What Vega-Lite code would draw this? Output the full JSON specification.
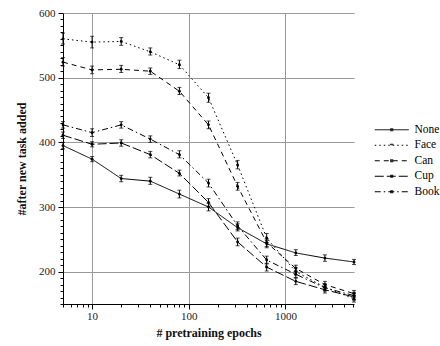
{
  "$schema": "https://vega.github.io/schema/vega-lite/v6.json",
  "autosize": {"type": "none"},
  "padding": {"left": 63, "top": 13, "right": 86, "bottom": 42},
  "width": 291,
  "height": 291,
  "background": "white",
  "config": {
    "view": {"stroke": null},
    "font": "Liberation Serif",
    "axis": {"labelFont": "Liberation Serif", "titleFont": "Liberation Serif", "labelColor": "#222", "titleColor": "#111", "domainColor": "black", "tickColor": "black", "gridColor": "#999"},
    "legend": {"labelFont": "Liberation Serif"}
  },
  "data": {"values": [
    {"series": "None", "epochs": 5, "v": 395, "lo": 390, "hi": 400},
    {"series": "None", "epochs": 10, "v": 374, "lo": 370, "hi": 378},
    {"series": "None", "epochs": 20, "v": 344, "lo": 339, "hi": 349},
    {"series": "None", "epochs": 40, "v": 340, "lo": 335, "hi": 346},
    {"series": "None", "epochs": 80, "v": 320, "lo": 314, "hi": 326},
    {"series": "None", "epochs": 160, "v": 300, "lo": 294, "hi": 306},
    {"series": "None", "epochs": 320, "v": 268, "lo": 263, "hi": 274},
    {"series": "None", "epochs": 640, "v": 243, "lo": 237, "hi": 249},
    {"series": "None", "epochs": 1280, "v": 229, "lo": 225, "hi": 234},
    {"series": "None", "epochs": 2560, "v": 221, "lo": 216, "hi": 226},
    {"series": "None", "epochs": 5120, "v": 215, "lo": 211, "hi": 219},
    {"series": "Face", "epochs": 5, "v": 560, "lo": 552, "hi": 569},
    {"series": "Face", "epochs": 10, "v": 555, "lo": 546, "hi": 564},
    {"series": "Face", "epochs": 20, "v": 556, "lo": 550, "hi": 562},
    {"series": "Face", "epochs": 40, "v": 540, "lo": 535, "hi": 546},
    {"series": "Face", "epochs": 80, "v": 520, "lo": 514, "hi": 527},
    {"series": "Face", "epochs": 160, "v": 469, "lo": 462, "hi": 476},
    {"series": "Face", "epochs": 320, "v": 365, "lo": 359, "hi": 372},
    {"series": "Face", "epochs": 640, "v": 252, "lo": 245, "hi": 259},
    {"series": "Face", "epochs": 1280, "v": 200, "lo": 195, "hi": 206},
    {"series": "Face", "epochs": 2560, "v": 176, "lo": 171, "hi": 181},
    {"series": "Face", "epochs": 5120, "v": 158, "lo": 153, "hi": 163},
    {"series": "Can", "epochs": 5, "v": 524, "lo": 518, "hi": 531},
    {"series": "Can", "epochs": 10, "v": 512, "lo": 506, "hi": 518},
    {"series": "Can", "epochs": 20, "v": 513, "lo": 508, "hi": 519},
    {"series": "Can", "epochs": 40, "v": 510, "lo": 505, "hi": 515},
    {"series": "Can", "epochs": 80, "v": 479, "lo": 474, "hi": 485},
    {"series": "Can", "epochs": 160, "v": 427, "lo": 421, "hi": 433},
    {"series": "Can", "epochs": 320, "v": 332, "lo": 326, "hi": 338},
    {"series": "Can", "epochs": 640, "v": 245, "lo": 239, "hi": 251},
    {"series": "Can", "epochs": 1280, "v": 205, "lo": 200, "hi": 210},
    {"series": "Can", "epochs": 2560, "v": 180, "lo": 175, "hi": 185},
    {"series": "Can", "epochs": 5120, "v": 166, "lo": 161, "hi": 171},
    {"series": "Cup", "epochs": 5, "v": 411, "lo": 406, "hi": 416},
    {"series": "Cup", "epochs": 10, "v": 397, "lo": 393, "hi": 401},
    {"series": "Cup", "epochs": 20, "v": 399, "lo": 394, "hi": 404},
    {"series": "Cup", "epochs": 40, "v": 381, "lo": 376, "hi": 386},
    {"series": "Cup", "epochs": 80, "v": 352, "lo": 348, "hi": 357},
    {"series": "Cup", "epochs": 160, "v": 307, "lo": 301, "hi": 313},
    {"series": "Cup", "epochs": 320, "v": 246, "lo": 240, "hi": 252},
    {"series": "Cup", "epochs": 640, "v": 207, "lo": 201, "hi": 213},
    {"series": "Cup", "epochs": 1280, "v": 185, "lo": 180, "hi": 190},
    {"series": "Cup", "epochs": 2560, "v": 172, "lo": 167, "hi": 177},
    {"series": "Cup", "epochs": 5120, "v": 161, "lo": 156, "hi": 166},
    {"series": "Book", "epochs": 5, "v": 427, "lo": 422, "hi": 432},
    {"series": "Book", "epochs": 10, "v": 415, "lo": 409, "hi": 421},
    {"series": "Book", "epochs": 20, "v": 427, "lo": 422, "hi": 432},
    {"series": "Book", "epochs": 40, "v": 405, "lo": 400, "hi": 410},
    {"series": "Book", "epochs": 80, "v": 381, "lo": 376, "hi": 387},
    {"series": "Book", "epochs": 160, "v": 337, "lo": 331, "hi": 343},
    {"series": "Book", "epochs": 320, "v": 271, "lo": 265, "hi": 277},
    {"series": "Book", "epochs": 640, "v": 218, "lo": 212, "hi": 224},
    {"series": "Book", "epochs": 1280, "v": 196, "lo": 191, "hi": 201},
    {"series": "Book", "epochs": 2560, "v": 175, "lo": 170, "hi": 180},
    {"series": "Book", "epochs": 5120, "v": 163, "lo": 157, "hi": 168}
  ]},
  "encoding": {
    "x": {
      "field": "epochs", "type": "quantitative",
      "scale": {"type": "log", "domain": [5, 5120], "nice": false},
      "axis": {
        "title": "# pretraining epochs",
        "titleFontSize": 12, "titleFontWeight": "bold", "titlePadding": 6,
        "labelFontSize": 11, "labelPadding": 1, "format": "d",
        "values": [5,6,7,8,9,10,20,30,40,50,60,70,80,90,100,200,300,400,500,600,700,800,900,1000,2000,3000,4000,5000],
        "labelExpr": "(datum.value===10||datum.value===100||datum.value===1000) ? datum.label : ''",
        "tickSize": {"condition": {"test": "datum.value===10||datum.value===100||datum.value===1000", "value": 5}, "value": 3},
        "gridOpacity": {"condition": {"test": "datum.value===10||datum.value===100||datum.value===1000", "value": 1}, "value": 0},
        "labelFlush": false
      }
    },
    "y": {
      "field": "v", "type": "quantitative",
      "scale": {"domain": [150, 600], "nice": false, "zero": false},
      "axis": {
        "title": "#after new task added",
        "titleFontSize": 12, "titleFontWeight": "bold", "titlePadding": 10,
        "labelFontSize": 11, "labelPadding": 3,
        "values": [150,160,170,180,190,200,210,220,230,240,250,260,270,280,290,300,310,320,330,340,350,360,370,380,390,400,410,420,430,440,450,460,470,480,490,500,510,520,530,540,550,560,570,580,590,600],
        "labelExpr": "datum.value % 100 === 0 ? datum.label : ''",
        "tickSize": {"condition": {"test": "datum.value % 100 === 0", "value": 5}, "value": 3},
        "gridOpacity": {"condition": {"test": "datum.value % 100 === 0", "value": 1}, "value": 0}
      }
    }
  },
  "layer": [
    {
      "mark": {"type": "line", "color": "black", "strokeWidth": 1},
      "encoding": {
        "detail": {"field": "series"},
        "strokeDash": {
          "field": "series", "type": "nominal",
          "sort": ["None", "Face", "Can", "Cup", "Book"],
          "scale": {"domain": ["None", "Face", "Can", "Cup", "Book"], "range": [[1, 0], [1.5, 3], [5, 4], [9, 3], [6, 3, 1.5, 3]]},
          "legend": {
            "title": null, "orient": "none", "legendX": 335, "legendY": 111,
            "labelFont": "Liberation Serif", "labelFontSize": 11.5, "labelColor": "black",
            "symbolType": "M-5.8,0H1M-2.6,-0.3V0.3M-2.4,-0.3V0.3M-2.2,-0.3V0.3", "symbolSize": 100, "symbolStrokeColor": "black", "symbolStrokeWidth": 1,
            "labelOffset": 5, "rowPadding": 2.5
          }
        }
      }
    },
    {
      "mark": {"type": "rule", "color": "black", "strokeWidth": 1},
      "encoding": {"y": {"field": "lo", "type": "quantitative"}, "y2": {"field": "hi"}}
    },
    {
      "mark": {"type": "tick", "color": "black", "orient": "horizontal", "size": 4, "thickness": 1},
      "encoding": {"y": {"field": "lo", "type": "quantitative"}}
    },
    {
      "mark": {"type": "tick", "color": "black", "orient": "horizontal", "size": 4, "thickness": 1},
      "encoding": {"y": {"field": "hi", "type": "quantitative"}}
    },
    {
      "mark": {"type": "circle", "color": "black", "size": 8, "opacity": 1}
    }
  ]
}
